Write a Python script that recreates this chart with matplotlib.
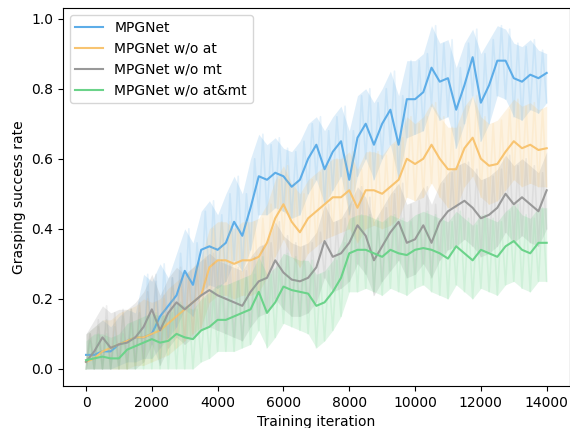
import numpy as np
import matplotlib
matplotlib.use('Agg')
import matplotlib.pyplot as plt

# training iterations where values were read (every 250 iterations)
iters = np.arange(0, 14001, 250)

labels = ['MPGNet', 'MPGNet w/o at', 'MPGNet w/o mt', 'MPGNet w/o at&mt']
colors = ['#5dade8', '#f8c471', '#999999', '#6bd38a']

# smoothed curves
mpg_smooth = [0.04, 0.04, 0.05, 0.05, 0.07, 0.08, 0.09, 0.09, 0.10, 0.15, 0.18, 0.21, 0.28, 0.24, 0.34,
              0.35, 0.34, 0.36, 0.42, 0.38, 0.46, 0.55, 0.54, 0.56, 0.55, 0.52, 0.54, 0.60, 0.64, 0.57,
              0.62, 0.65, 0.54, 0.66, 0.70, 0.64, 0.70, 0.74, 0.64, 0.77, 0.77, 0.79, 0.86, 0.82, 0.83,
              0.74, 0.81, 0.89, 0.76, 0.81, 0.88, 0.88, 0.83, 0.82, 0.84, 0.83, 0.845]
noat_smooth = [0.02, 0.03, 0.05, 0.06, 0.07, 0.08, 0.09, 0.09, 0.10, 0.11, 0.13, 0.15, 0.17, 0.19, 0.21,
               0.29, 0.31, 0.31, 0.30, 0.31, 0.31, 0.32, 0.36, 0.43, 0.47, 0.42, 0.39, 0.43, 0.45, 0.47,
               0.49, 0.49, 0.51, 0.46, 0.51, 0.51, 0.50, 0.52, 0.54, 0.60, 0.585, 0.60, 0.64, 0.60, 0.57,
               0.57, 0.63, 0.66, 0.60, 0.58, 0.585, 0.62, 0.65, 0.63, 0.64, 0.625, 0.63]
nomt_smooth = [0.02, 0.05, 0.09, 0.06, 0.07, 0.075, 0.09, 0.12, 0.17, 0.11, 0.16, 0.19, 0.17, 0.19, 0.21,
               0.225, 0.21, 0.20, 0.19, 0.18, 0.22, 0.25, 0.26, 0.31, 0.275, 0.255, 0.25, 0.26, 0.29, 0.365,
               0.32, 0.33, 0.36, 0.41, 0.38, 0.31, 0.35, 0.39, 0.42, 0.36, 0.37, 0.41, 0.36, 0.42, 0.45,
               0.465, 0.48, 0.46, 0.43, 0.44, 0.46, 0.50, 0.47, 0.49, 0.47, 0.45, 0.51]
noboth_smooth = [0.025, 0.03, 0.035, 0.03, 0.03, 0.055, 0.065, 0.075, 0.085, 0.075, 0.08, 0.10, 0.09, 0.085, 0.11,
                 0.12, 0.14, 0.14, 0.15, 0.16, 0.17, 0.22, 0.16, 0.19, 0.235, 0.225, 0.22, 0.215, 0.18, 0.19,
                 0.22, 0.26, 0.33, 0.34, 0.34, 0.33, 0.32, 0.34, 0.33, 0.325, 0.34, 0.345, 0.34, 0.33, 0.315,
                 0.35, 0.33, 0.31, 0.34, 0.33, 0.32, 0.35, 0.365, 0.34, 0.33, 0.36, 0.36]

# raw (noisy) values: upper and lower spikes
mpg_hi = [0.10, 0.12, 0.14, 0.12, 0.15, 0.17, 0.16, 0.27, 0.25, 0.30, 0.26, 0.33, 0.40, 0.36, 0.45,
          0.48, 0.44, 0.50, 0.55, 0.50, 0.60, 0.67, 0.64, 0.66, 0.63, 0.62, 0.65, 0.70, 0.72, 0.68,
          0.72, 0.75, 0.68, 0.78, 0.80, 0.76, 0.80, 0.85, 0.78, 0.88, 0.88, 0.90, 0.98, 0.93, 0.94,
          0.86, 0.93, 0.97, 0.90, 0.94, 0.98, 0.97, 0.93, 0.92, 0.94, 0.91, 0.90]
mpg_lo = [0.00, 0.00, 0.00, 0.00, 0.01, 0.02, 0.02, 0.03, 0.03, 0.06, 0.09, 0.12, 0.17, 0.15, 0.22,
          0.24, 0.23, 0.25, 0.31, 0.28, 0.34, 0.44, 0.44, 0.46, 0.45, 0.43, 0.44, 0.50, 0.54, 0.47,
          0.51, 0.55, 0.44, 0.55, 0.60, 0.54, 0.60, 0.64, 0.54, 0.66, 0.67, 0.68, 0.75, 0.71, 0.72,
          0.63, 0.70, 0.78, 0.65, 0.70, 0.78, 0.77, 0.72, 0.71, 0.74, 0.73, 0.76]
noat_hi = [0.10, 0.12, 0.14, 0.14, 0.16, 0.17, 0.18, 0.20, 0.19, 0.20, 0.23, 0.25, 0.27, 0.29, 0.32,
           0.40, 0.42, 0.42, 0.40, 0.42, 0.42, 0.43, 0.47, 0.54, 0.58, 0.53, 0.50, 0.54, 0.56, 0.58,
           0.60, 0.60, 0.62, 0.57, 0.62, 0.62, 0.61, 0.64, 0.66, 0.72, 0.70, 0.72, 0.76, 0.72, 0.69,
           0.69, 0.75, 0.78, 0.72, 0.70, 0.71, 0.74, 0.77, 0.75, 0.76, 0.74, 0.75]
noat_lo = [0.00, 0.00, 0.00, 0.00, 0.00, 0.00, 0.01, 0.01, 0.02, 0.03, 0.04, 0.06, 0.08, 0.10, 0.12,
           0.19, 0.21, 0.21, 0.20, 0.21, 0.21, 0.22, 0.26, 0.32, 0.37, 0.32, 0.29, 0.33, 0.35, 0.37,
           0.38, 0.39, 0.40, 0.36, 0.40, 0.41, 0.40, 0.41, 0.43, 0.49, 0.48, 0.49, 0.53, 0.49, 0.46,
           0.46, 0.52, 0.55, 0.49, 0.47, 0.48, 0.51, 0.54, 0.52, 0.53, 0.52, 0.52]
nomt_hi = [0.10, 0.14, 0.18, 0.16, 0.17, 0.17, 0.19, 0.22, 0.27, 0.21, 0.26, 0.29, 0.27, 0.29, 0.31,
           0.33, 0.31, 0.30, 0.29, 0.28, 0.32, 0.35, 0.36, 0.42, 0.38, 0.36, 0.35, 0.36, 0.39, 0.47,
           0.42, 0.43, 0.47, 0.52, 0.49, 0.42, 0.46, 0.50, 0.53, 0.47, 0.48, 0.52, 0.47, 0.53, 0.56,
           0.58, 0.59, 0.57, 0.54, 0.55, 0.57, 0.61, 0.58, 0.60, 0.58, 0.56, 0.62]
nomt_lo = [0.00, 0.00, 0.00, 0.00, 0.00, 0.00, 0.00, 0.02, 0.07, 0.01, 0.06, 0.09, 0.07, 0.09, 0.11,
           0.12, 0.11, 0.10, 0.09, 0.08, 0.12, 0.15, 0.16, 0.20, 0.17, 0.15, 0.15, 0.16, 0.19, 0.26,
           0.22, 0.23, 0.25, 0.30, 0.27, 0.21, 0.25, 0.28, 0.31, 0.26, 0.27, 0.30, 0.26, 0.31, 0.34,
           0.35, 0.37, 0.35, 0.32, 0.33, 0.35, 0.39, 0.36, 0.38, 0.36, 0.35, 0.40]
noboth_hi = [0.08, 0.10, 0.10, 0.09, 0.10, 0.13, 0.14, 0.15, 0.16, 0.15, 0.16, 0.19, 0.18, 0.17, 0.20,
             0.22, 0.24, 0.24, 0.25, 0.26, 0.27, 0.32, 0.27, 0.29, 0.33, 0.32, 0.31, 0.31, 0.27, 0.28,
             0.31, 0.36, 0.43, 0.44, 0.44, 0.43, 0.42, 0.44, 0.43, 0.42, 0.44, 0.45, 0.44, 0.43, 0.42,
             0.45, 0.43, 0.41, 0.44, 0.43, 0.42, 0.45, 0.47, 0.44, 0.43, 0.46, 0.46]
noboth_lo = [0.00, 0.00, 0.00, 0.00, 0.00, 0.00, 0.00, 0.00, 0.00, 0.00, 0.00, 0.00, 0.00, 0.00, 0.02,
             0.03, 0.05, 0.05, 0.05, 0.06, 0.07, 0.11, 0.06, 0.09, 0.13, 0.12, 0.11, 0.10, 0.06, 0.08,
             0.11, 0.15, 0.22, 0.22, 0.23, 0.22, 0.21, 0.23, 0.22, 0.21, 0.23, 0.24, 0.22, 0.21, 0.20,
             0.24, 0.22, 0.20, 0.23, 0.22, 0.21, 0.24, 0.25, 0.23, 0.22, 0.25, 0.25]

smooth = [mpg_smooth, noat_smooth, nomt_smooth, noboth_smooth]
highs = [mpg_hi, noat_hi, nomt_hi, noboth_hi]
lows = [mpg_lo, noat_lo, nomt_lo, noboth_lo]

fig = plt.figure(figsize=(5.7, 4.28), dpi=100)
ax = fig.add_axes([0.1105, 0.098, 0.889, 0.883])

# raw line zig-zags between the low and high readings
raw_x = np.ravel(np.column_stack([iters, iters + 125]))[:-1]
for lab, col, sm, hi, lo in zip(labels, colors, smooth, highs, lows):
    raw_y = np.ravel(np.column_stack([lo, hi]))[:-1]
    ax.fill_between(iters, lo, hi, color=col, alpha=0.2, linewidth=0)
    ax.plot(raw_x, raw_y, color=col, alpha=0.15, linewidth=1.2)
    ax.plot(iters, sm, color=col, linewidth=1.5, label=lab)

ax.set_xlim(-700, 14700)
ax.set_ylim(-0.049, 1.03)
ax.set_xticks(range(0, 14001, 2000))
ax.set_yticks([0.0, 0.2, 0.4, 0.6, 0.8, 1.0])
ax.set_xlabel('Training iteration')
ax.set_ylabel('Grasping success rate')
ax.legend(loc='upper left')

fig.savefig('out.png', dpi=100)
